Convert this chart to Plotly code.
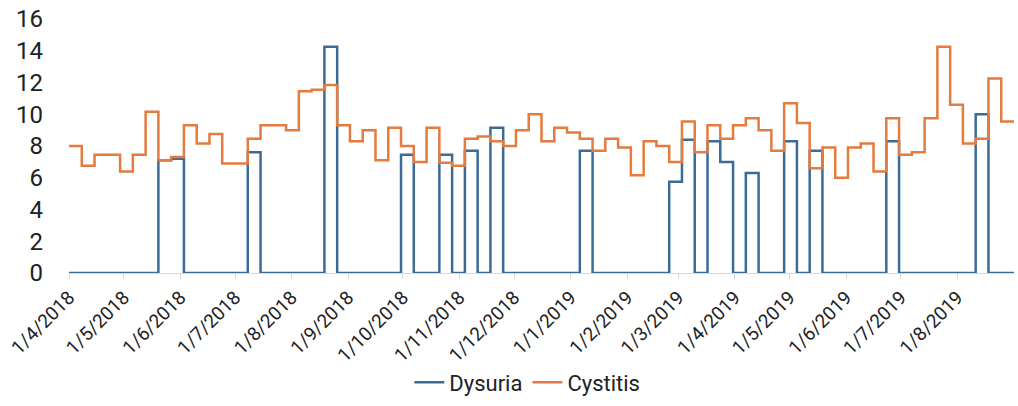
import pandas as pd
import plotly.graph_objects as go

start_date = "2018-04-01"
n_weeks = 74

dysuria = [0, 0, 0, 0, 0, 0, 0, 7.1, 7.2, 0,
           0, 0, 0, 0, 7.6, 0, 0, 0, 0, 0,
           14.25, 0, 0, 0, 0, 0, 7.45, 0, 0, 7.45,
           0, 7.7, 0, 9.15, 0, 0, 0, 0, 0, 0,
           7.7, 0, 0, 0, 0, 0, 0, 5.75, 8.4, 0,
           8.3, 7.0, 0, 6.3, 0, 0, 8.3, 0, 7.7, 0,
           0, 0, 0, 0, 8.3, 0, 0, 0, 0, 0,
           0, 10.0, 0, 0]

cystitis = [8.0, 6.75, 7.45, 7.45, 6.4, 7.45, 10.15, 7.1, 7.3, 9.3,
            8.15, 8.75, 6.9, 6.9, 8.45, 9.3, 9.3, 9.0, 11.45, 11.55,
            11.85, 9.3, 8.3, 9.0, 7.1, 9.15, 8.0, 7.0, 9.15, 6.95,
            6.75, 8.45, 8.6, 8.3, 8.0, 9.0, 10.0, 8.3, 9.15, 8.85,
            8.45, 7.7, 8.45, 7.9, 6.15, 8.3, 8.0, 7.0, 9.55, 7.6,
            9.3, 8.45, 9.3, 9.75, 9.0, 7.7, 10.7, 9.45, 6.6, 7.9,
            6.0, 7.9, 8.15, 6.4, 9.75, 7.45, 7.6, 9.75, 14.25, 10.6,
            8.15, 8.45, 12.25, 9.55]

tick_dates = ["2018-04-01", "2018-05-01", "2018-06-01", "2018-07-01", "2018-08-01",
              "2018-09-01", "2018-10-01", "2018-11-01", "2018-12-01", "2019-01-01",
              "2019-02-01", "2019-03-01", "2019-04-01", "2019-05-01", "2019-06-01",
              "2019-07-01", "2019-08-01"]
tick_labels = ["1/4/2018", "1/5/2018", "1/6/2018", "1/7/2018", "1/8/2018",
               "1/9/2018", "1/10/2018", "1/11/2018", "1/12/2018", "1/1/2019",
               "1/2/2019", "1/3/2019", "1/4/2019", "1/5/2019", "1/6/2019",
               "1/7/2019", "1/8/2019"]

# weekly dates plus one closing date so the final week's step is drawn
dates = pd.date_range(start_date, periods=n_weeks + 1, freq="7D")
dys_y = dysuria + [dysuria[-1]]
cys_y = cystitis + [cystitis[-1]]

fig = go.Figure()
fig.add_trace(go.Scatter(x=dates, y=dys_y, name="Dysuria", mode="lines",
                         line=dict(color="#3C6B95", width=2.5, shape="hv")))
fig.add_trace(go.Scatter(x=dates, y=cys_y, name="Cystitis", mode="lines",
                         line=dict(color="#E47B3F", width=2.5, shape="hv")))

fig.update_layout(
    width=1018, height=406,
    margin=dict(l=69, r=4, t=19, b=133, autoexpand=False),
    paper_bgcolor="white", plot_bgcolor="white",
    font=dict(family="Roboto", size=19, color="#222222"),
    showlegend=True,
    legend=dict(orientation="h", x=0.485, xanchor="center", y=-0.431, yanchor="middle",
                font=dict(size=22), itemwidth=30),
    xaxis=dict(type="date", range=[dates[0], dates[-1]], automargin=False,
               tickmode="array", tickvals=tick_dates, ticktext=tick_labels,
               tickangle=-45, showgrid=False, zeroline=False,
               showline=True, linecolor="#D9D9D9", linewidth=1,
               ticks="outside", ticklen=5, tickcolor="#D9D9D9",
               tickfont=dict(size=19), ticklabeloverflow="allow"),
    yaxis=dict(range=[0, 16], dtick=2, showgrid=False, zeroline=False, automargin=False,
               showline=False, ticks="", tickfont=dict(size=24), ticklabelstandoff=25,
               ticklabeloverflow="allow"),
)

# remove the default 8px page margin so the figure fills the window exactly
fig.write_html("out.html", config={"displayModeBar": False},
               post_script="document.body.style.margin='0';")
